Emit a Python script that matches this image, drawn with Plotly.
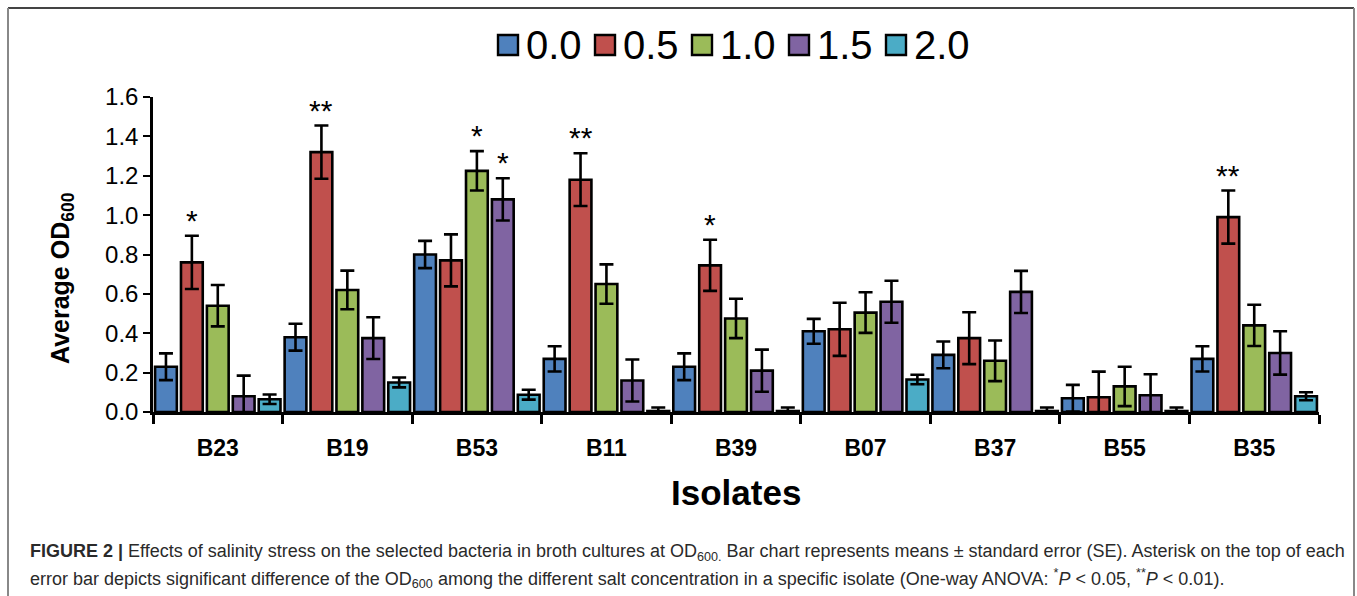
import plotly.graph_objects as go

# ---------------- data ----------------
isolates = ["B23", "B19", "B53", "B11", "B39", "B07", "B37", "B55", "B35"]
series_names = ["0.0", "0.5", "1.0", "1.5", "2.0"]

od_00 = [0.23, 0.38, 0.80, 0.27, 0.23, 0.41, 0.29, 0.07, 0.27]
od_05 = [0.76, 1.32, 0.77, 1.18, 0.745, 0.42, 0.375, 0.075, 0.99]
od_10 = [0.54, 0.62, 1.225, 0.65, 0.475, 0.505, 0.26, 0.13, 0.44]
od_15 = [0.08, 0.375, 1.08, 0.16, 0.21, 0.56, 0.61, 0.085, 0.30]
od_20 = [0.065, 0.15, 0.088, 0.005, 0.005, 0.165, 0.005, 0.005, 0.08]

se_00 = [0.068, 0.068, 0.069, 0.064, 0.068, 0.063, 0.068, 0.068, 0.064]
se_05 = [0.135, 0.135, 0.132, 0.134, 0.13, 0.135, 0.132, 0.13, 0.135]
se_10 = [0.105, 0.098, 0.10, 0.10, 0.10, 0.103, 0.103, 0.10, 0.105]
se_15 = [0.105, 0.106, 0.107, 0.107, 0.107, 0.107, 0.107, 0.107, 0.11]
se_20 = [0.024, 0.025, 0.025, 0.018, 0.018, 0.024, 0.018, 0.018, 0.02]

sig_00 = ["", "", "", "", "", "", "", "", ""]
sig_05 = ["*", "**", "", "**", "*", "", "", "", "**"]
sig_10 = ["", "", "*", "", "", "", "", "", ""]
sig_15 = ["", "", "*", "", "", "", "", "", ""]
sig_20 = ["", "", "", "", "", "", "", "", ""]

y_ticks = [0.0, 0.2, 0.4, 0.6, 0.8, 1.0, 1.2, 1.4, 1.6]

values = [od_00, od_05, od_10, od_15, od_20]
errors = [se_00, se_05, se_10, se_15, se_20]
sigs = [sig_00, sig_05, sig_10, sig_15, sig_20]
colors = ["#4F81BD", "#C0504D", "#9BBB59", "#8064A2", "#4BACC6"]

# ---------------- layout geometry (pixels) ----------------
W, H = 1357, 596
PL, PR, PT, PB = 153, 1319, 97, 412   # plot area


def px2x(px):
    return (px - PL) / (PR - PL)


def px2y(py):
    return (PB - py) / (PB - PT)


FONT = "Liberation Sans, Arial, sans-serif"

fig = go.Figure()
for name, vals, errs, col in zip(series_names, values, errors, colors):
    fig.add_trace(go.Bar(
        name=name, x=isolates, y=vals,
        marker=dict(color=col, line=dict(color="black", width=2.6)),
        error_y=dict(type="data", array=errs, visible=True,
                     color="black", thickness=2.6, width=7),
        showlegend=False,
    ))

# significance asterisks
n_series = len(series_names)
slot = 1.0 / n_series
annotations = []
for si, (vals, errs, sg) in enumerate(zip(values, errors, sigs)):
    off = -0.5 + slot * (si + 0.5)
    for ci, lab in enumerate(sg):
        if lab:
            annotations.append(dict(
                x=ci + off, y=vals[ci] + errs[ci], xref="x", yref="y",
                text=lab, showarrow=False, yanchor="bottom",
                yshift=-3, font=dict(family=FONT, size=30, color="black"),
            ))

# manual legend
leg_x0 = 498
leg_pitch = 97
for i, (name, col) in enumerate(zip(series_names, colors)):
    x0 = leg_x0 + i * leg_pitch
    fig.add_shape(type="rect", xref="paper", yref="paper",
                  x0=px2x(x0), x1=px2x(x0 + 20), y0=px2y(55), y1=px2y(35),
                  fillcolor=col, line=dict(color="black", width=2.4))
    annotations.append(dict(
        x=px2x(x0 + 26), y=px2y(45), xref="paper", yref="paper",
        text=name, showarrow=False, xanchor="left", yanchor="middle",
        font=dict(family=FONT, size=40, color="black"),
    ))

# frame
fig.add_shape(type="line", xref="paper", yref="paper",
              x0=px2x(8), x1=px2x(1354), y0=px2y(8), y1=px2y(8),
              line=dict(color="#444444", width=2))
fig.add_shape(type="line", xref="paper", yref="paper",
              x0=px2x(8), x1=px2x(8), y0=px2y(8), y1=px2y(600),
              line=dict(color="#888888", width=2))
fig.add_shape(type="line", xref="paper", yref="paper",
              x0=px2x(1354), x1=px2x(1354), y0=px2y(8), y1=px2y(600),
              line=dict(color="#888888", width=2))

# caption
CAP_FONT = "Liberation Sans, Arial, sans-serif"
caption1 = ("<b>FIGURE 2 |</b> Effects of salinity stress on the selected bacteria in broth "
            "cultures at OD<sub>600.</sub> Bar chart represents means ± standard error (SE). "
            "Asterisk on the top of each")
caption2 = ("error bar depicts significant difference of the OD<sub>600</sub> among the different "
            "salt concentration in a specific isolate (One-way ANOVA: <sup>*</sup><i>P</i> &lt; 0.05, "
            "<sup>**</sup><i>P</i> &lt; 0.01).")
annotations.append(dict(x=px2x(28), y=px2y(552), xref="paper", yref="paper",
                        text=caption1, showarrow=False, xanchor="left", yanchor="middle",
                        font=dict(family=CAP_FONT, size=18, color="#2a2a2a")))
annotations.append(dict(x=px2x(28), y=px2y(578), xref="paper", yref="paper",
                        text=caption2, showarrow=False, xanchor="left", yanchor="middle",
                        font=dict(family=CAP_FONT, size=18, color="#2a2a2a")))

# x-axis title
annotations.append(dict(x=px2x(736), y=px2y(492), xref="paper", yref="paper",
                        text="<b>Isolates</b>", showarrow=False,
                        xanchor="center", yanchor="middle",
                        font=dict(family=FONT, size=35, color="black")))
# y-axis title
annotations.append(dict(x=px2x(62), y=px2y(278), xref="paper", yref="paper",
                        text="<b>Average OD<sub>600</sub></b>", showarrow=False, textangle=-90,
                        xanchor="center", yanchor="middle",
                        font=dict(family=FONT, size=25, color="black")))

fig.update_layout(
    width=W, height=H,
    margin=dict(l=PL, r=W - PR, t=PT, b=H - PB, pad=0),
    paper_bgcolor="white", plot_bgcolor="white",
    barmode="group", bargap=0.0, bargroupgap=0.16,
    showlegend=False,
    annotations=annotations,
    font=dict(family=FONT, color="black"),
    xaxis=dict(
        type="category", showgrid=False, showline=True, linecolor="black", linewidth=2.5,
        ticks="outside", tickson="boundaries", ticklen=9, tickwidth=2.5, tickcolor="black",
        tickfont=dict(family=FONT, size=23, color="black"),
        ticklabelstandoff=14,
        tickvals=isolates, ticktext=["<b>%s</b>" % s for s in isolates],
        zeroline=False,
    ),
    yaxis=dict(
        range=[0, 1.6], tickvals=y_ticks, ticktext=["%.1f" % v for v in y_ticks],
        showgrid=False, showline=True, linecolor="black", linewidth=2.5,
        ticks="outside", ticklen=7, tickwidth=2.2, tickcolor="black",
        tickfont=dict(family=FONT, size=24, color="black"),
        zeroline=False,
    ),
)

fig.write_html("out.html", config={"displayModeBar": False},
               post_script="document.body.style.margin='0';")
